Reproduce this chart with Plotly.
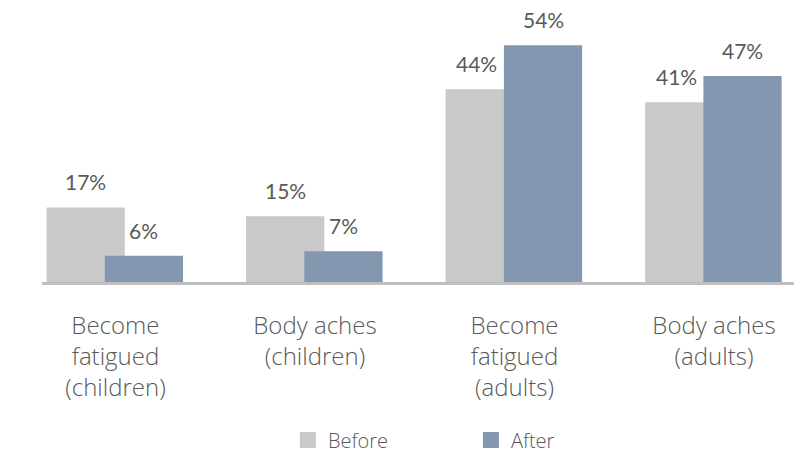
import plotly.graph_objects as go

categories = [
    "Become<br>fatigued<br>(children)",
    "Body aches<br>(children)",
    "Become<br>fatigued<br>(adults)",
    "Body aches<br>(adults)",
]
before = [17, 15, 44, 41]
after = [6, 7, 54, 47]
series_names = ["Before", "After"]

BEFORE_COLOR = "#C9C9C9"
AFTER_COLOR = "#8497B0"
TEXT_COLOR = "#595959"
LABEL_FONT = "Lato"
AXIS_FONT = "Open Sans"

# bars in a group overlap slightly
W = 0.392
OFF_BEFORE = -0.345
OFF_AFTER = -0.053

x_idx = list(range(len(categories)))

fig = go.Figure()
fig.add_trace(go.Bar(
    x=x_idx, y=before, name=series_names[0], marker_color=BEFORE_COLOR,
    width=W, offset=OFF_BEFORE, marker_line_width=0, showlegend=False,
))
fig.add_trace(go.Bar(
    x=x_idx, y=after, name=series_names[1], marker_color=AFTER_COLOR,
    width=W, offset=OFF_AFTER, marker_line_width=0, showlegend=False,
))

# legend entries with larger square swatches
for name, color in zip(series_names, (BEFORE_COLOR, AFTER_COLOR)):
    fig.add_trace(go.Scatter(
        x=[None], y=[None], mode="markers", name=name,
        marker=dict(symbol="square", size=16, color=color),
    ))

# value labels above each bar; a "before" label nudges left when the
# taller "after" bar next to it would otherwise cover it
for i, (b, a) in enumerate(zip(before, after)):
    fig.add_annotation(
        x=i + OFF_BEFORE + W / 2, y=b, text=f"{b}%", showarrow=False,
        yanchor="bottom", yshift=11, xshift=-8 if a > b else 0,
        font=dict(family=LABEL_FONT, size=21, color=TEXT_COLOR),
    )
    fig.add_annotation(
        x=i + OFF_AFTER + W / 2, y=a, text=f"{a}%", showarrow=False,
        yanchor="bottom", yshift=11,
        font=dict(family=LABEL_FONT, size=21, color=TEXT_COLOR),
    )

fig.update_layout(
    width=794, height=454,
    margin=dict(l=42, r=0, t=19, b=172, autoexpand=False),
    paper_bgcolor="white", plot_bgcolor="white",
    barmode="overlay",
    showlegend=True,
    legend=dict(
        orientation="h", x=0.327, xanchor="left", y=-0.527, yanchor="top",
        font=dict(family=AXIS_FONT, size=20, color=TEXT_COLOR, weight=300),
        entrywidth=138, itemwidth=30,
    ),
    xaxis=dict(
        tickmode="array", tickvals=x_idx, ticktext=categories,
        range=[-0.368, 3.401], showgrid=False, zeroline=False,
        showline=True, linecolor="#BFBFBF", linewidth=3,
        ticks="", ticklabelstandoff=20,
        tickfont=dict(family=AXIS_FONT, size=24, color=TEXT_COLOR, weight=300),
    ),
    yaxis=dict(
        range=[0, 60], visible=False, showgrid=False, zeroline=False,
    ),
)

fig.write_html("out.html")
